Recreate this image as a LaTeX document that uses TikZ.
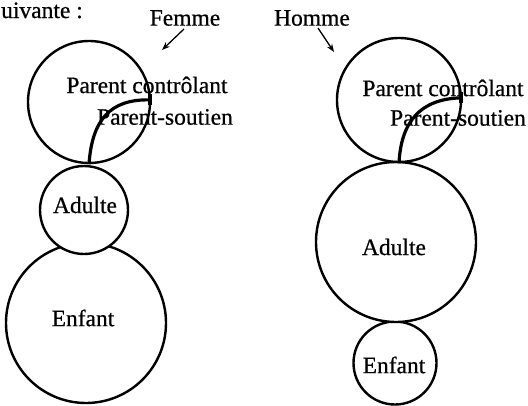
\documentclass[tikz,border=0pt]{standalone}
\usepackage{fontspec}
\setmainfont{Liberation Serif}
\newfontfamily\printfont[FakeBold=0.6]{Liberation Serif}
\usetikzlibrary{arrows.meta, positioning, calc}

\begin{document}
\begin{tikzpicture}[
    x=1pt, y=-1pt,
    state/.style={circle, draw=black, line width=2.4pt, fill=white, inner sep=0pt},
    label/.style={font=\printfont\fontsize{23.5}{28}\selectfont, inner sep=0pt},
    soutien/.style={line width=3.2pt},
    pointer/.style={-{Stealth[length=8pt, width=6pt]}, line width=1.3pt}
]
\useasboundingbox (0,0) rectangle (528,405);

% top line of the page
\node[label, anchor=base west] (suivante) at (1,18) {uivante :};

% Femme
\node[state, minimum size=160pt] (fenfant) at (86,323) {};
\node[state, minimum size=88pt] (fadulte) at (84,210) {};
\node[state, fill=none, minimum size=122pt] (fparent) at (89,102) {};
\coordinate (fjoint) at ($(fparent.center)+(-2:61)$);
\draw[soutien] (fparent.south) .. controls (92,120) and (110,99) .. (fjoint);
\draw[soutien] ($(fjoint)+(0,-6)$) -- ($(fjoint)+(0,5)$);

\node[label] (fpc) at (147,85) {Parent contrôlant};
\node[label] (fps) at (165,117) {Parent-soutien};
\node[label] (fa) at (85,205) {Adulte};
\node[label] (fe) at (83,318) {Enfant};

\node[label] (femme) at (185,18) {Femme};
\coordinate (fstart) at (184,29);
\coordinate (ftip) at (162,50);
\draw[pointer] (fstart) -- (ftip);

% Homme
\node[state, minimum size=83pt] (henfant) at (395,363) {};
\node[state, minimum size=160pt] (hadulte) at (396,242) {};
\node[state, fill=none, minimum size=124pt] (hparent) at (399,100) {};
\coordinate (hjoint) at ($(hparent.center)+(-2:62)$);
\draw[soutien] (hparent.south) .. controls (401,122) and (420,99) .. (hjoint);
\draw[soutien] ($(hjoint)+(0,-6)$) -- ($(hjoint)+(0,5)$);

\node[label] (hpc) at (443,88) {Parent contrôlant};
\node[label] (hps) at (458,118) {Parent-soutien};
\node[label] (ha) at (394,247) {Adulte};
\node[label] (he) at (394,365) {Enfant};

\node[label] (homme) at (312,18) {Homme};
\coordinate (hstart) at (318,28);
\coordinate (htip) at (334,52);
\draw[pointer] (hstart) -- (htip);

\end{tikzpicture}
\end{document}
